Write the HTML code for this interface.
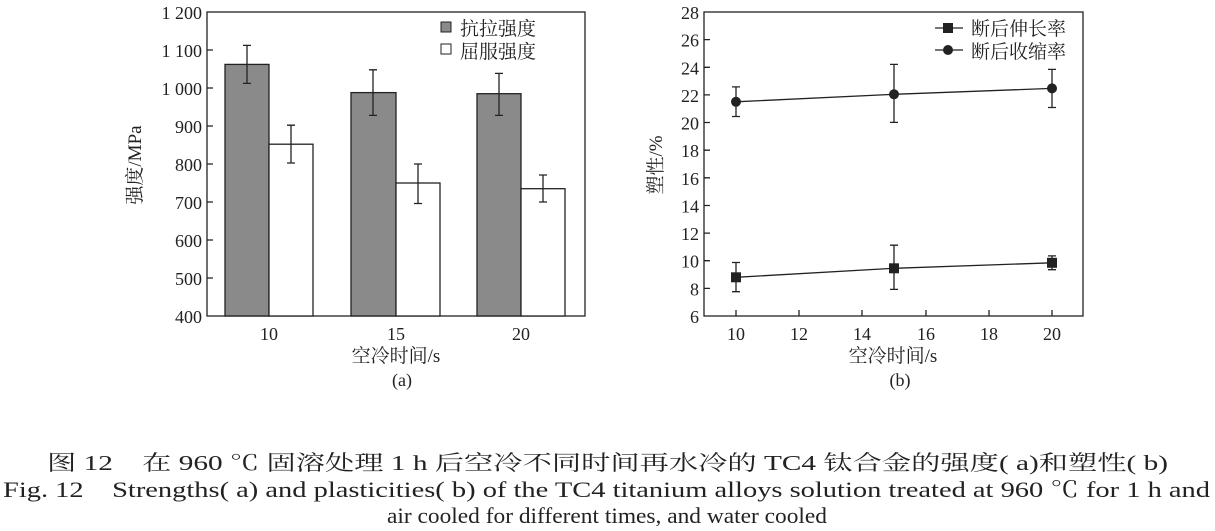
<!DOCTYPE html>
<html><head><meta charset="utf-8"><style>
body{margin:0;background:#fff;}
svg{display:block;}
text{font-family:"Liberation Serif","Noto Serif CJK SC",serif;fill:#222;}
</style></head><body>
<svg width="1215" height="531" viewBox="0 0 1215 531" xmlns="http://www.w3.org/2000/svg">
<g stroke="#222" stroke-width="1.3" fill="none">
<rect x="207" y="12" width="378" height="304"/>
<path d="M207 50h6M207 88h6M207 126h6M207 164h6M207 202h6M207 240h6M207 278h6"/>
</g>
<g stroke="#222" stroke-width="1.3">
<rect x="225" y="64.4" width="44" height="251.6" fill="#8a8a8a"/>
<rect x="269" y="144.2" width="44" height="171.8" fill="#fff"/>
<rect x="351" y="92.6" width="45" height="223.4" fill="#8a8a8a"/>
<rect x="396" y="183" width="44" height="133" fill="#fff"/>
<rect x="477" y="93.7" width="44" height="222.3" fill="#8a8a8a"/>
<rect x="521" y="188.7" width="44" height="127.3" fill="#fff"/>
</g>
<g stroke="#222" stroke-width="1.3" fill="none">
<path d="M247 45.4V83.4M243 45.4h8M243 83.4h8"/>
<path d="M291 125.2V163M287 125.2h8M287 163h8"/>
<path d="M373 69.8V115.4M369 69.8h8M369 115.4h8"/>
<path d="M418 164V203.5M414 164h8M414 203.5h8"/>
<path d="M499 73.4V115.4M495 73.4h8M495 115.4h8"/>
<path d="M543 175V202M539 175h8M539 202h8"/>
</g>
<rect x="441" y="22" width="10" height="10" fill="#8a8a8a" stroke="#222"/>
<rect x="441" y="44" width="10" height="10" fill="#fff" stroke="#222"/>
<text x="460" y="35" font-size="19">抗拉强度</text>
<text x="460" y="58" font-size="19">屈服强度</text>
<g font-size="18" text-anchor="end">
<text x="202" y="19">1 200</text><text x="202" y="57">1 100</text><text x="202" y="95">1 000</text><text x="202" y="133">900</text><text x="202" y="171">800</text><text x="202" y="209">700</text><text x="202" y="247">600</text><text x="202" y="285">500</text><text x="202" y="323">400</text>
</g>
<g font-size="18" text-anchor="middle">
<text x="269" y="340">10</text><text x="396" y="340">15</text><text x="521" y="340">20</text>
<text x="396" y="362" font-size="19">空冷时间/s</text>
<text x="402" y="386">(a)</text>
</g>
<text transform="translate(141,165) rotate(-90)" font-size="19" text-anchor="middle">强度/MPa</text>

<g stroke="#222" stroke-width="1.3" fill="none">
<rect x="704" y="12" width="379" height="304"/>
<path d="M704 39.6h6M704 67.3h6M704 94.9h6M704 122.5h6M704 150.2h6M704 177.8h6M704 205.5h6M704 233.1h6M704 260.7h6M704 288.4h6"/>
<path d="M736 316v-6M799 316v-6M862 316v-6M926 316v-6M989 316v-6M1052 316v-6"/>
<path d="M736 101.8L894 94.3L1052 88.4"/>
<path d="M736 277.3L894 268.3L1052 262.8"/>
<path d="M736 116.5V86.9M732 116.5h8M732 86.9h8"/>
<path d="M894 122.4V64.4M890 122.4h8M890 64.4h8"/>
<path d="M1052 107.5V69.4M1048 107.5h8M1048 69.4h8"/>
<path d="M736 291.7V262.5M732 291.7h8M732 262.5h8"/>
<path d="M894 289.4V245.2M890 289.4h8M890 245.2h8"/>
<path d="M1052 269.7V255.9M1048 269.7h8M1048 255.9h8"/>
<path d="M935 28h28M935 50h28"/>
</g>
<g fill="#222">
<circle cx="736" cy="101.8" r="5"/><circle cx="894" cy="94.3" r="5"/><circle cx="1052" cy="88.4" r="5"/>
<rect x="731" y="272.3" width="10" height="10"/><rect x="889" y="263.3" width="10" height="10"/><rect x="1047" y="257.8" width="10" height="10"/>
<rect x="943" y="23" width="10" height="10"/><circle cx="948" cy="50" r="5"/>
</g>
<text x="971" y="35" font-size="19">断后伸长率</text>
<text x="971" y="58" font-size="19">断后收缩率</text>
<g font-size="18" text-anchor="end">
<text x="699" y="19">28</text><text x="699" y="46.6">26</text><text x="699" y="74.3">24</text><text x="699" y="101.9">22</text><text x="699" y="129.5">20</text><text x="699" y="157.2">18</text><text x="699" y="184.8">16</text><text x="699" y="212.5">14</text><text x="699" y="240.1">12</text><text x="699" y="267.7">10</text><text x="699" y="295.4">8</text><text x="699" y="323">6</text>
</g>
<g font-size="18" text-anchor="middle">
<text x="736" y="340">10</text><text x="799" y="340">12</text><text x="862" y="340">14</text><text x="926" y="340">16</text><text x="989" y="340">18</text><text x="1052" y="340">20</text>
<text x="893" y="362" font-size="19">空冷时间/s</text>
<text x="900" y="386">(b)</text>
</g>
<text transform="translate(662,165) rotate(-90)" font-size="19" text-anchor="middle">塑性/%</text>

<text x="47" y="470" font-size="21" textLength="1121" lengthAdjust="spacingAndGlyphs">图 12　在 960 ℃ 固溶处理 1 h 后空冷不同时间再水冷的 TC4 钛合金的强度( a)和塑性( b)</text>
<text x="3" y="497" font-size="22" textLength="1207" lengthAdjust="spacingAndGlyphs">Fig. 12　Strengths( a) and plasticities( b) of the TC4 titanium alloys solution treated at 960 ℃ for 1 h and</text>
<text x="387" y="523" font-size="22" textLength="440" lengthAdjust="spacingAndGlyphs">air cooled for different times, and water cooled</text>
</svg>
</body></html>
